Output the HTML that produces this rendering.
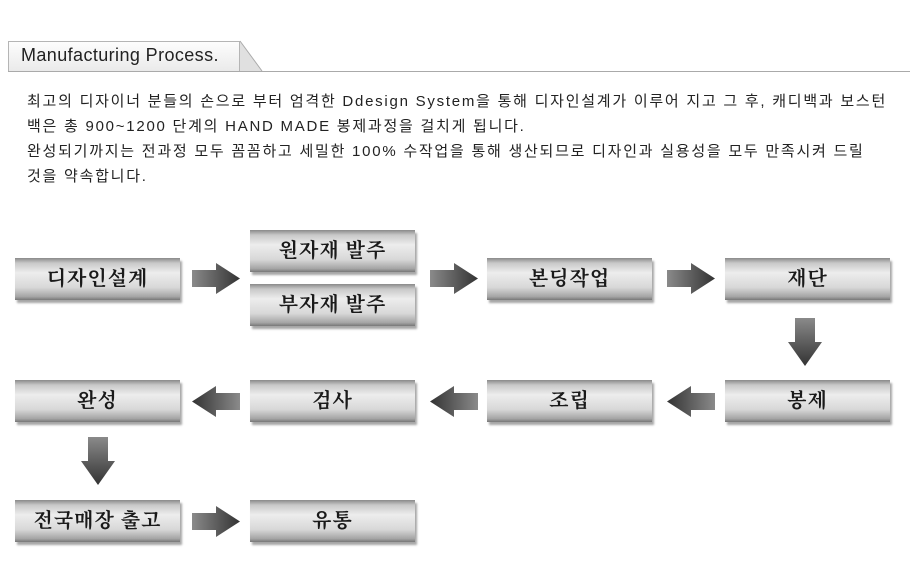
<!DOCTYPE html>
<html><head><meta charset="utf-8"><style>
body{margin:0;width:910px;height:572px;background:#fff;position:relative;overflow:hidden;font-family:"Liberation Sans","Noto Sans CJK KR",sans-serif}
.tab{position:absolute;left:8px;top:41px;width:232px;height:30px;background:linear-gradient(#fdfdfd,#eaeaea);border:1px solid #b5b5b5;border-bottom:none;box-sizing:border-box;font-size:18px;letter-spacing:0.4px;color:#222;padding:3px 0 0 12px}
.line{position:absolute;left:8px;top:71px;width:902px;height:1px;background:#aaa}
.txt{position:absolute;left:27px;top:89px;font-size:15px;line-height:25px;color:#222;letter-spacing:1.75px;white-space:nowrap}
.b{position:absolute;width:165px;height:42px;background:linear-gradient(#8a8a8a 0%,#c8c8c8 12%,#ededed 35%,#d8d8d8 70%,#a5a5a5 92%,#777 100%);box-shadow:2px 3px 2px rgba(0,0,0,.35);text-align:center;line-height:42px;font-family:"Liberation Serif","Noto Serif CJK SC","Noto Sans CJK KR",serif;font-weight:bold;font-size:20px;color:#1a1a1a;letter-spacing:1px}
svg{position:absolute;left:0;top:0}
</style></head><body>
<div class="tab">Manufacturing Process.</div>
<svg width="910" height="80"><polygon points="240,41 262,71 240,71" fill="#e0e0e0"/><line x1="240" y1="41" x2="262" y2="71" stroke="#aaa"/></svg>
<div class="line"></div>
<div class="txt">최고의 디자이너 분들의 손으로 부터 엄격한 Ddesign System을 통해 디자인설계가 이루어 지고 그 후, 캐디백과 보스턴<br>백은 총 900~1200 단계의 HAND MADE 봉제과정을 걸치게 됩니다.<br>완성되기까지는 전과정 모두 꼼꼼하고 세밀한 100% 수작업을 통해 생산되므로 디자인과 실용성을 모두 만족시켜 드릴<br>것을 약속합니다.</div>

<div class="b" style="left:15px;top:258px">디자인설계</div>
<div class="b" style="left:250px;top:230px">원자재 발주</div>
<div class="b" style="left:250px;top:284px">부자재 발주</div>
<div class="b" style="left:487px;top:258px">본딩작업</div>
<div class="b" style="left:725px;top:258px">재단</div>
<div class="b" style="left:15px;top:380px">완성</div>
<div class="b" style="left:250px;top:380px">검사</div>
<div class="b" style="left:487px;top:380px">조립</div>
<div class="b" style="left:725px;top:380px">봉제</div>
<div class="b" style="left:15px;top:500px">전국매장 출고</div>
<div class="b" style="left:250px;top:500px">유통</div>

<svg width="910" height="572">
<defs>
<linearGradient id="gr" x1="0" x2="1" y1="0" y2="0"><stop offset="0" stop-color="#8a8a8a"/><stop offset="1" stop-color="#333"/></linearGradient>
<linearGradient id="gl" x1="1" x2="0" y1="0" y2="0"><stop offset="0" stop-color="#8a8a8a"/><stop offset="1" stop-color="#333"/></linearGradient>
<linearGradient id="gd" x1="0" x2="0" y1="0" y2="1"><stop offset="0" stop-color="#8a8a8a"/><stop offset="1" stop-color="#333"/></linearGradient>
<polygon id="ar" points="0,7 24,7 24,0 48,15.5 24,31 24,24 0,24" fill="url(#gr)"/>
<polygon id="al" points="48,7 24,7 24,0 0,15.5 24,31 24,24 48,24" fill="url(#gl)"/>
<polygon id="ad" points="7,0 27,0 27,24 34,24 17,48 0,24 7,24" fill="url(#gd)"/>
</defs>
<use href="#ar" x="192" y="263"/>
<use href="#ar" x="430" y="263"/>
<use href="#ar" x="667" y="263"/>
<use href="#ar" x="192" y="506"/>
<use href="#al" x="192" y="386"/>
<use href="#al" x="430" y="386"/>
<use href="#al" x="667" y="386"/>
<use href="#ad" x="788" y="318"/>
<use href="#ad" x="81" y="437"/>
</svg>
</body></html>
